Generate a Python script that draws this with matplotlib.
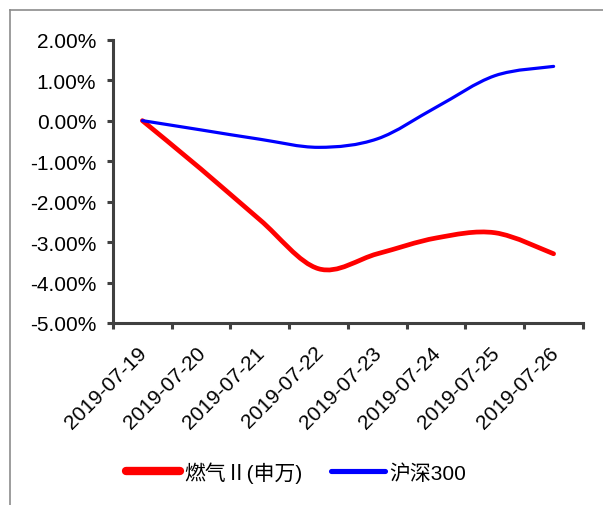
import matplotlib
matplotlib.use("Agg")
import matplotlib.pyplot as plt
import matplotlib.transforms as mtransforms
from matplotlib.path import Path
from matplotlib.patches import PathPatch
from matplotlib.lines import Line2D
from matplotlib.ticker import FuncFormatter, FixedLocator

plt.rcParams['font.family'] = ['Liberation Sans', 'Noto Sans CJK SC', 'DejaVu Sans']

dates = ['2019-07-19', '2019-07-20', '2019-07-21', '2019-07-22',
         '2019-07-23', '2019-07-24', '2019-07-25', '2019-07-26']
gas = [0.00, -1.20, -2.45, -3.66, -3.29, -2.90, -2.77, -3.29]      # 燃气II(申万), %
hs300 = [0.00, -0.23, -0.46, -0.66, -0.45, 0.33, 1.11, 1.34]       # 沪深300, %

series = [('燃气Ⅱ(申万)', gas, '#FF0000', 3.4, 6.0),
          ('沪深300', hs300, '#0000FF', 2.3, 3.7)]


def smooth_path(ys):
    # cubic bezier through every point, tangent from neighbouring points
    pts = list(zip(range(len(ys)), ys))
    verts = [pts[0]]
    codes = [Path.MOVETO]
    n = len(pts)
    for i in range(n - 1):
        p0 = pts[max(i - 1, 0)]
        p1 = pts[i]
        p2 = pts[i + 1]
        p3 = pts[min(i + 2, n - 1)]
        c1 = (p1[0] + (p2[0] - p0[0]) / 6, p1[1] + (p2[1] - p0[1]) / 6)
        c2 = (p2[0] - (p3[0] - p1[0]) / 6, p2[1] - (p3[1] - p1[1]) / 6)
        verts += [c1, c2, p2]
        codes += [Path.CURVE4] * 3
    return Path(verts, codes)


fig = plt.figure(figsize=(6.03, 5.06), dpi=100)
ax = fig.add_axes([0.1874, 0.3597, 0.7794, 0.5599])

handles = []
for name, ys, color, lw, legend_lw in series:
    ax.add_patch(PathPatch(smooth_path(ys), fill=False, edgecolor=color,
                           linewidth=lw, capstyle='round', joinstyle='round'))
    handles.append(Line2D([], [], color=color, linewidth=legend_lw,
                          solid_capstyle='round', label=name))

ax.set_xlim(-0.5, len(dates) - 0.5)
ax.set_ylim(-5, 2)
ax.set_yticks(range(-5, 3))
ax.yaxis.set_major_formatter(FuncFormatter(lambda v, p: f'{v:.2f}%'))

# ticks between categories, labels at category centres
ax.xaxis.set_major_locator(FixedLocator([i - 0.5 for i in range(len(dates) + 1)]))
ax.xaxis.set_minor_locator(FixedLocator(list(range(len(dates)))))
ax.set_xticklabels([], minor=False)
ax.set_xticklabels(dates, minor=True, rotation=45, ha='right', va='top',
                   rotation_mode='anchor', fontsize=15)
ax.tick_params(axis='x', which='minor', length=0, pad=14)
shift = mtransforms.ScaledTranslation(-0.05, 0, fig.dpi_scale_trans)
for lab in ax.get_xticklabels(minor=True):
    lab.set_transform(lab.get_transform() + shift)

for side in ['top', 'right']:
    ax.spines[side].set_visible(False)
for side in ['left', 'bottom']:
    ax.spines[side].set_color('#404040')
    ax.spines[side].set_linewidth(2.2)
ax.tick_params(axis='both', which='major', direction='out', length=4,
               width=2.2, color='#404040', labelsize=15)
ax.tick_params(axis='y', pad=8)

fig.legend(handles=handles, loc='center', bbox_to_anchor=(296 / 603, 1 - 473 / 506),
           ncol=2, frameon=False, fontsize=15, handlelength=2.6,
           handletextpad=0.2, columnspacing=1.4)

# thin frame on top and left edge
fig.add_artist(Line2D([10 / 603, 10 / 603], [0, 1 - 11 / 506],
                      transform=fig.transFigure, color='#8c8c8c', linewidth=1.2))
fig.add_artist(Line2D([10 / 603, 1], [1 - 11 / 506, 1 - 11 / 506],
                      transform=fig.transFigure, color='#8c8c8c', linewidth=1.2))

fig.savefig('out.png', dpi=100)
